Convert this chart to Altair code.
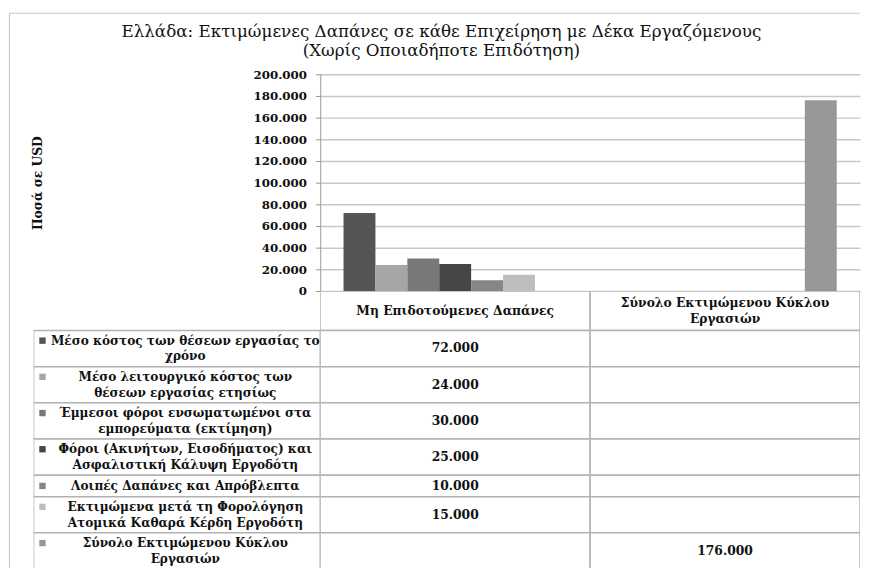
import altair as alt
import pandas as pd

# ---------------- data ----------------
title_lines = [
    "Ελλάδα: Εκτιμώμενες Δαπάνες σε κάθε Επιχείρηση με Δέκα Εργαζόμενους",
    "(Χωρίς Οποιαδήποτε Επιδότηση)",
]
y_title = "Ποσά σε USD"

categories = ["Μη Επιδοτούμενες Δαπάνες", "Σύνολο Εκτιμώμενου Κύκλου Εργασιών"]
category_headers = ["Μη Επιδοτούμενες Δαπάνες", "Σύνολο Εκτιμώμενου Κύκλου\nΕργασιών"]

series = [
    "Μέσο κόστος των θέσεων εργασίας το\nχρόνο",
    "Μέσο λειτουργικό κόστος των\nθέσεων εργασίας ετησίως",
    "Έμμεσοι φόροι ενσωματωμένοι στα\nεμπορεύματα (εκτίμηση)",
    "Φόροι (Ακινήτων, Εισοδήματος) και\nΑσφαλιστική Κάλυψη Εργοδότη",
    "Λοιπές Δαπάνες και Απρόβλεπτα",
    "Εκτιμώμενα μετά τη Φορολόγηση\nΑτομικά Καθαρά Κέρδη Εργοδότη",
    "Σύνολο Εκτιμώμενου Κύκλου\nΕργασιών",
]
values_non_subsidised = [72000, 24000, 30000, 25000, 10000, 15000, None]
values_turnover = [None, None, None, None, None, None, 176000]

y_ticks = [0, 20000, 40000, 60000, 80000, 100000, 120000, 140000, 160000, 180000, 200000]

series_colors = ["#555555", "#a6a6a6", "#787878", "#464646", "#868686", "#bebebe", "#979797"]

# ---------------- styles ----------------
FONT = "DejaVu Serif"
GRID = "#c8c8c8"
LINE = "#b2b2b2"
PLOT_W = 548
LEFT_W = 291
PLOT_H = 220
TABLE_H = 281
UNIT = 15.0            # px per text line unit in the table
LINE_H = 16
HALF = (LINE_H / 2) / UNIT

# ---------------- frames ----------------
rows = []
for s, v1, v2 in zip(series, values_non_subsidised, values_turnover):
    if v1 is not None:
        rows.append({"category": categories[0], "series": s, "value": v1})
    if v2 is not None:
        rows.append({"category": categories[1], "series": s, "value": v2})
bars_df = pd.DataFrame(rows)


def fmt(v):
    return "" if v is None else f"{v:,}".replace(",", ".")


def n_lines(t):
    return t.count("\n") + 1


# table geometry derived from the number of text lines of each row
header_lines = max(n_lines(h) for h in category_headers)
header_h = header_lines + 0.67
table_rows = []
top = header_h
for i, s in enumerate(series):
    n = n_lines(s)
    h = n + 0.45
    mid = top + h / 2
    table_rows.append({
        "series": s, "top": top, "bottom": top + h, "mid": mid,
        "text_y": mid - (n - 1) * HALF,
        "v1": fmt(values_non_subsidised[i]), "v2": fmt(values_turnover[i]),
    })
    top += h
rows_df = pd.DataFrame(table_rows)

cells = []
for c, hdr in zip(categories, category_headers):
    cells.append({"category": c, "top": 0.0, "bottom": header_h,
                  "text_y": header_h / 2 - (n_lines(hdr) - 1) * HALF, "text": hdr})
for r in table_rows:
    cells.append({"category": categories[0], "top": r["top"], "bottom": r["bottom"], "text_y": r["mid"], "text": r["v1"]})
    cells.append({"category": categories[1], "top": r["top"], "bottom": r["bottom"], "text_y": r["mid"], "text": r["v2"]})
cells_df = pd.DataFrame(cells)

y_table = alt.Scale(domain=[0, TABLE_H / UNIT], reverse=True, nice=False, zero=False)
x_cat = alt.Scale(domain=categories, paddingInner=0, paddingOuter=0)
color_scale = alt.Scale(domain=series, range=series_colors)

# ---------------- top-left: chart frame ----------------
frame_df = pd.DataFrame({"k": [0]})
frame_left = alt.Chart(frame_df).mark_rule(color="#c8c8c8", strokeWidth=1.2).encode(
    x=alt.value(-24.5), y=alt.value(-62), y2=alt.value(TABLE_H + PLOT_H)
)
frame_top = alt.Chart(frame_df).mark_rule(color="#c8c8c8", strokeWidth=1.2).encode(
    x=alt.value(-24.5), x2=alt.value(LEFT_W + PLOT_W), y=alt.value(-62)
)
top_left = alt.layer(frame_left, frame_top).properties(width=LEFT_W, height=PLOT_H)

# ---------------- top-right: bars ----------------
bars = alt.Chart(bars_df).mark_bar().encode(
    x=alt.X("category:N", scale=x_cat, axis=None),
    xOffset=alt.XOffset("series:N", scale=alt.Scale(domain=series, paddingInner=0, paddingOuter=0.73)),
    y=alt.Y(
        "value:Q",
        scale=alt.Scale(domain=[0, 200000], nice=False),
        axis=alt.Axis(
            values=y_ticks,
            labelExpr="replace(format(datum.value, ',d'), ',', '.')",
            labelFont=FONT, labelFontWeight="bold", labelFontSize=12, labelColor="#111",
            labelPadding=9, tickSize=5, tickColor="#999", domainColor="#999",
            grid=True, gridColor=GRID, gridWidth=1.5,
            title=y_title, titleFont=FONT, titleFontWeight="bold", titleFontSize=12.5,
            titleColor="#111", titleAngle=270, titleX=-287, titleY=PLOT_H / 2,
            titleAlign="center", titleBaseline="middle",
        ),
    ),
    color=alt.Color("series:N", scale=color_scale, legend=None),
).properties(
    width=PLOT_W, height=PLOT_H,
    title=alt.Title(
        text=title_lines, anchor="middle", dx=-151, offset=9,
        font=FONT, fontSize=17, fontWeight="normal", color="#111", lineHeight=19,
    ),
)

# ---------------- bottom-left: series labels ----------------
row_cells = alt.Chart(rows_df).mark_rect(fill="white", stroke=LINE, strokeWidth=1.5, clip=True).encode(
    y=alt.Y("top:Q", scale=y_table, axis=None), y2="bottom:Q"
)
row_keys = alt.Chart(rows_df).mark_square(size=42, opacity=1).encode(
    x=alt.value(9), y=alt.Y("text_y:Q", scale=y_table, axis=None),
    color=alt.Color("series:N", scale=color_scale, legend=None),
)
row_text = alt.Chart(rows_df).mark_text(
    font=FONT, fontWeight="bold", fontSize=12.3, lineBreak="\n", lineHeight=LINE_H,
    align="center", baseline="middle", color="#111",
).encode(x=alt.value(154), y=alt.Y("text_y:Q", scale=y_table, axis=None), text="series:N")
bottom_left = alt.layer(row_cells, row_keys, row_text).properties(width=LEFT_W, height=TABLE_H)

# ---------------- bottom-right: values ----------------
val_cells = alt.Chart(cells_df).mark_rect(fill="white", stroke=LINE, strokeWidth=1.5, clip=True).encode(
    x=alt.X("category:N", scale=x_cat, axis=None),
    y=alt.Y("top:Q", scale=y_table, axis=None), y2="bottom:Q",
)
val_text = alt.Chart(cells_df).mark_text(
    font=FONT, fontWeight="bold", fontSize=12.5, lineBreak="\n", lineHeight=LINE_H,
    align="center", baseline="middle", color="#111",
).encode(
    x=alt.X("category:N", scale=x_cat, axis=None),
    y=alt.Y("text_y:Q", scale=y_table, axis=None), text="text:N",
)
bottom_right = alt.layer(val_cells, val_text).properties(width=PLOT_W, height=TABLE_H)

chart = alt.concat(
    top_left, bars, bottom_left, bottom_right, columns=2, spacing=0, bounds="flush"
).resolve_scale(
    x="independent", y="independent", color="independent"
).properties(
    padding=0, background="white"
).configure_view(strokeWidth=0)

chart.save("out.html", embed_options={"renderer": "svg", "actions": False})
